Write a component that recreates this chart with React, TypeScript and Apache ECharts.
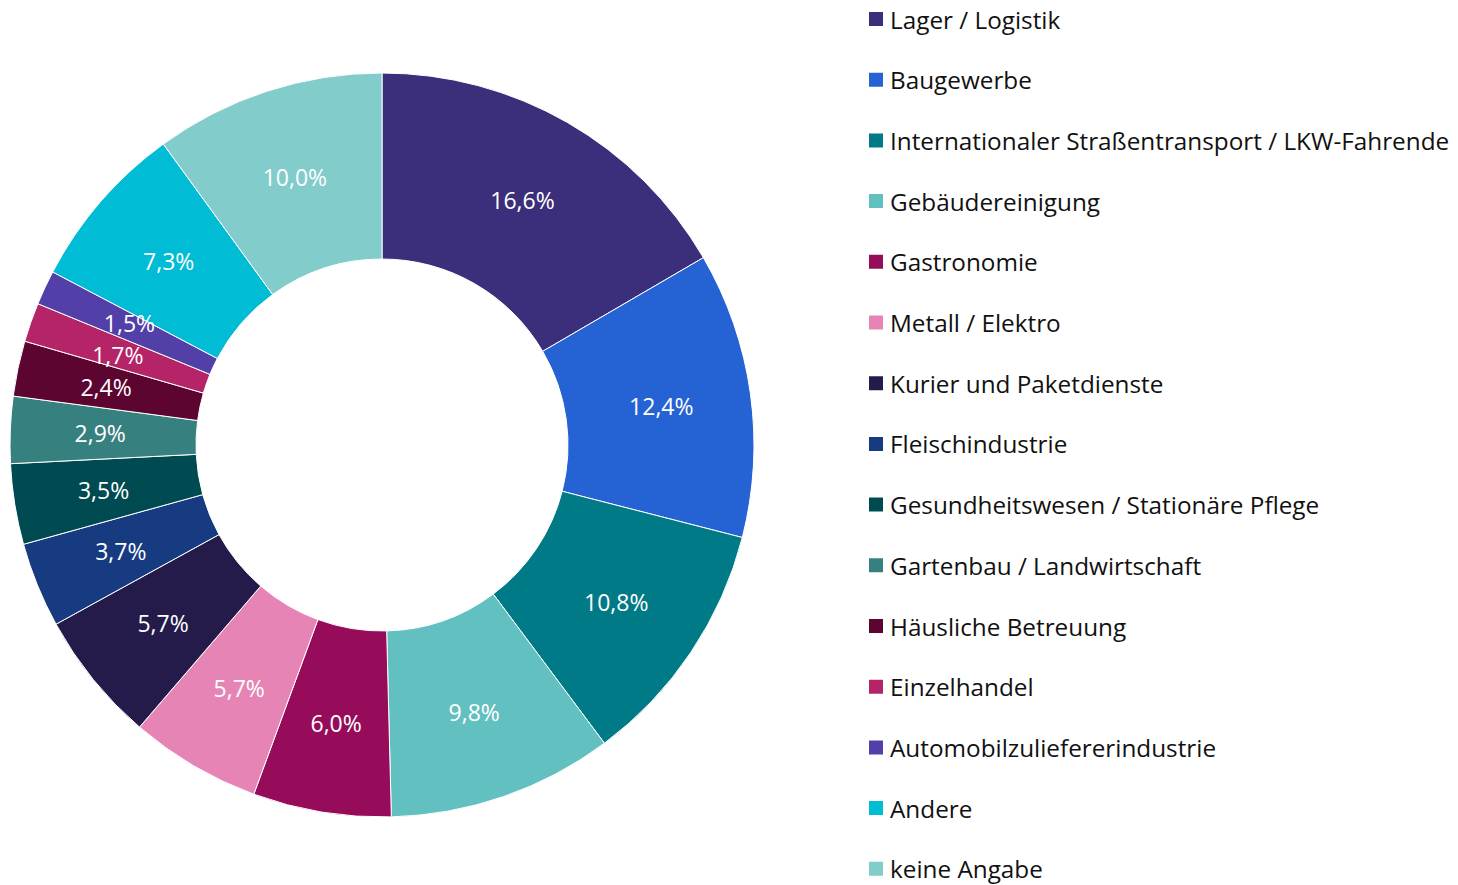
import React, { useEffect, useRef } from "react";
import * as echarts from "echarts";

const categories = [
  "Lager / Logistik",
  "Baugewerbe",
  "Internationaler Straßentransport / LKW-Fahrende",
  "Gebäudereinigung",
  "Gastronomie",
  "Metall / Elektro",
  "Kurier und Paketdienste",
  "Fleischindustrie",
  "Gesundheitswesen / Stationäre Pflege",
  "Gartenbau / Landwirtschaft",
  "Häusliche Betreuung",
  "Einzelhandel",
  "Automobilzuliefererindustrie",
  "Andere",
  "keine Angabe",
];
const values = [16.6, 12.4, 10.8, 9.8, 6.0, 5.7, 5.7, 3.7, 3.5, 2.9, 2.4, 1.7, 1.5, 7.3, 10.0];
const colors = [
  "#3B2E7A", "#2563D4", "#007A87", "#63C0C0", "#960C5A",
  "#E685B5", "#241B4B", "#173B80", "#004A52", "#378080",
  "#5B0530", "#B42466", "#5240A8", "#00BCD4", "#82CCCC",
];
// small nudges for the two thin slices whose labels crowd each other
const labelNudges: Record<string, [number, number]> = {
  Einzelhandel: [2, 3],
  Automobilzuliefererindustrie: [3, -3],
};

export default function App() {
  const ref = useRef<HTMLDivElement>(null);
  useEffect(() => {
    if (!ref.current) return;
    const chart = echarts.init(ref.current, null, { renderer: "svg" });
    const font = "'Open Sans', 'Noto Sans', sans-serif";
    chart.setOption({
      animation: false,
      color: colors,
      legend: {
        orient: "vertical",
        left: 867,
        top: 7,
        height: 885,
        padding: 0,
        itemWidth: 16,
        itemHeight: 16,
        itemGap: 36.7,
        icon: "rect",
        textStyle: { fontFamily: font, fontSize: 24.3, color: "#111", lineHeight: 24, padding: [0, 0, 0, 1] },
        data: categories,
        selectedMode: false,
      },
      series: [
        {
          type: "pie",
          center: [382, 445],
          radius: [186, 372],
          startAngle: 90,
          clockwise: true,
          avoidLabelOverlap: false,
          itemStyle: { borderColor: "#fff", borderWidth: 1 },
          label: {
            show: true,
            position: "inside",
            color: "#fff",
            fontFamily: font,
            fontSize: 23,
            lineHeight: 23,
            formatter: (p: any) => p.value.toFixed(1).replace(".", ",") + "%",
          },
          labelLine: { show: false },
          data: categories.map((c, i) => ({
            name: c,
            value: values[i],
            ...(labelNudges[c] ? { label: { offset: labelNudges[c] } } : {}),
          })),
        },
      ],
    });
    return () => chart.dispose();
  }, []);
  return (
    <div
      ref={ref}
      style={{ position: "fixed", left: 0, top: 0, width: 1458, height: 885, background: "#fff" }}
    />
  );
}
